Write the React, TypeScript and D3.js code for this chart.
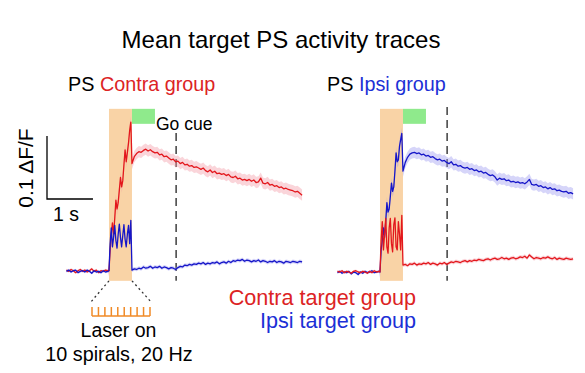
import React from "react";
import * as d3 from "d3";

// ---- time grid (s): pre-laser, laser (finer sampling), post-laser ----
const preTimes = d3.range(19).map((i) => -0.925 + i * 0.05);
const laserTimes = d3.range(20).map((i) => i * 0.025);
const postTimes = d3.range(75).map((i) => 0.5 + i * 0.05);
const times = [...preTimes, ...laserTimes, ...postTimes];

// ---- events (s) ----
const laserWindow = [0, 0.5];
const goWindow = [0.5, 1.0];
const goCueTime = 1.46;
const spiralCount = 10;

// ---- Left panel: PS Contra group ----
const leftContraTarget = [
  // pre
  0.003, 0.001, 0.004, 0.002, -0.001, 0.002, 0.004, 0.001, 0.003, 0.0, 0.002, 0.005, 0.001, 0.003, -0.001, 0.002, 0.001, 0.003, 0.002,
  // laser
  0.002, 0.035, 0.06, 0.078, 0.06, 0.085, 0.114, 0.1, 0.11, 0.13, 0.15, 0.135, 0.145, 0.17, 0.194, 0.175, 0.19, 0.205, 0.225, 0.238,
  // post
  0.172, 0.183, 0.188, 0.191, 0.19, 0.193, 0.195, 0.192, 0.194, 0.191,
  0.189, 0.19, 0.186, 0.187, 0.183, 0.184, 0.181, 0.178, 0.179, 0.175,
  0.176, 0.172, 0.174, 0.17, 0.171, 0.168, 0.169, 0.166, 0.167, 0.165,
  0.163, 0.165, 0.161, 0.159, 0.162, 0.158, 0.16, 0.156, 0.157, 0.155,
  0.156, 0.153, 0.155, 0.151, 0.15, 0.152, 0.148, 0.149, 0.146, 0.147,
  0.145, 0.147, 0.144, 0.146, 0.142, 0.143, 0.149, 0.141, 0.14, 0.142,
  0.138, 0.139, 0.136, 0.137, 0.134, 0.135, 0.132, 0.133, 0.131, 0.13,
  0.129, 0.127, 0.128, 0.125, 0.122,
];
const leftIpsiTarget = [
  0.001, 0.003, 0.0, 0.002, 0.003, -0.001, 0.001, 0.002, 0.0, 0.003, 0.001, -0.002, 0.002, 0.0, 0.001, -0.001, 0.002, 0.0, 0.001,
  0.002, 0.045, 0.07, 0.04, 0.055, 0.074, 0.05, 0.038, 0.06, 0.076, 0.055, 0.04, 0.058, 0.075, 0.052, 0.04, 0.06, 0.074, 0.045, 0.082,
  0.003, 0.005, 0.004, 0.006, 0.005, 0.008, 0.006, 0.007, 0.009, 0.006,
  0.008, 0.007, 0.009, 0.006, 0.008, 0.007, 0.005, 0.007, 0.006, 0.004,
  0.007, 0.009, 0.008, 0.011, 0.01, 0.012, 0.011, 0.013, 0.012, 0.014,
  0.013, 0.015, 0.012, 0.014, 0.013, 0.015, 0.014, 0.016, 0.013, 0.015,
  0.016, 0.014, 0.017, 0.015, 0.018, 0.017, 0.019, 0.018, 0.02, 0.017,
  0.019, 0.018, 0.016, 0.018, 0.017, 0.019, 0.016, 0.018, 0.017, 0.015,
  0.017, 0.016, 0.018, 0.015, 0.017, 0.016, 0.014, 0.017, 0.016, 0.015,
  0.017, 0.016, 0.015, 0.017, 0.016,
];

// ---- Right panel: PS Ipsi group ----
const rightContraTarget = [
  0.001, 0.0, 0.002, -0.001, 0.001, 0.0, -0.002, 0.001, 0.002, 0.0, -0.001, 0.001, 0.0, -0.002, 0.001, -0.001, 0.002, 0.0, 0.001,
  0.0, 0.05, 0.08, 0.035, 0.06, 0.085, 0.04, 0.03, 0.07, 0.085, 0.045, 0.032, 0.075, 0.086, 0.04, 0.035, 0.08, 0.06, 0.035, 0.09,
  0.011, 0.012, 0.01, 0.013, 0.012, 0.014, 0.011, 0.013, 0.012, 0.014,
  0.013, 0.015, 0.012, 0.014, 0.013, 0.011, 0.014, 0.013, 0.015, 0.012,
  0.014, 0.016, 0.015, 0.017, 0.016, 0.015, 0.017, 0.018, 0.016, 0.018,
  0.017, 0.019, 0.018, 0.02, 0.019, 0.018, 0.02, 0.021, 0.019, 0.021,
  0.022, 0.02, 0.021, 0.023, 0.021, 0.022, 0.02, 0.022, 0.023, 0.021,
  0.022, 0.024, 0.023, 0.025, 0.022, 0.027, 0.024, 0.021, 0.023, 0.022,
  0.021, 0.023, 0.022, 0.024, 0.022, 0.021, 0.023, 0.02, 0.022, 0.021,
  0.02, 0.022, 0.021, 0.02, 0.021,
];
const rightIpsiTarget = [
  -0.001, 0.001, -0.002, 0.0, -0.001, 0.001, -0.003, 0.0, -0.001, -0.004, 0.0, -0.002, 0.001, -0.001, 0.0, 0.002, -0.001, 0.0, 0.001,
  0.0, 0.035, 0.05, 0.07, 0.055, 0.08, 0.11, 0.095, 0.1, 0.12, 0.141, 0.128, 0.135, 0.16, 0.189, 0.175, 0.178, 0.2, 0.21, 0.22,
  0.16, 0.174, 0.182, 0.187, 0.189, 0.19, 0.188, 0.189, 0.186, 0.187,
  0.184, 0.185, 0.182, 0.183, 0.18, 0.178, 0.179, 0.176, 0.177, 0.174,
  0.172, 0.175, 0.17, 0.171, 0.168, 0.169, 0.166, 0.165, 0.166, 0.163,
  0.164, 0.161, 0.162, 0.159, 0.16, 0.157, 0.158, 0.155, 0.153, 0.154,
  0.151, 0.146, 0.149, 0.147, 0.148, 0.145, 0.146, 0.143, 0.144, 0.142,
  0.143, 0.141, 0.142, 0.14, 0.143, 0.147, 0.139, 0.138, 0.139, 0.136,
  0.137, 0.134, 0.135, 0.132, 0.134, 0.131, 0.132, 0.129, 0.13, 0.128,
  0.127, 0.128, 0.125, 0.126, 0.124,
];

// SEM half-widths (ΔF/F): [pre-laser, laser/post]
const semLeft = { contra: [0.002, 0.009], ipsi: [0.002, 0.003] };
const semRight = { contra: [0.002, 0.003], ipsi: [0.002, 0.009] };

const RED = "#e3171c";
const BLUE = "#1616c8";
const RED_TEXT = "#dc2324";
const BLUE_TEXT = "#1c30d6";
const FONT = "'Liberation Sans', Arial, Helvetica, sans-serif";

const W = 585;
const H = 373;

const y = d3.scaleLinear().domain([0, 0.1]).range([272, 209]);

type PanelProps = {
  x0: number;
  x1: number;
  contra: number[];
  ipsi: number[];
  sem: { contra: number[]; ipsi: number[] };
  contraOnTop: boolean;
  dashTop: number;
};

function Panel({ x0, x1, contra, ipsi, sem, contraOnTop, dashTop }: PanelProps) {
  const x = d3.scaleLinear().domain([-0.935, 4.22]).range([x0, x1]);
  const line = d3
    .line<number>()
    .x((_, i) => x(times[i]))
    .y((d) => y(d));
  const area = (s: number[]) => {
    const sAt = (i: number) => (times[i] < 0 ? s[0] : s[1]);
    return d3
      .area<number>()
      .x((_, i) => x(times[i]))
      .y0((d, i) => y(d - sAt(i)))
      .y1((d, i) => y(d + sAt(i)));
  };
  const rectTop = y(0.259);
  const rectBot = y(-0.014);
  const contraPath = <path d={line(contra) || ""} fill="none" stroke={RED} strokeWidth={1.3} strokeLinejoin="round" />;
  const ipsiPath = <path d={line(ipsi) || ""} fill="none" stroke={BLUE} strokeWidth={1.3} strokeLinejoin="round" />;
  return (
    <g>
      <rect x={x(laserWindow[0])} y={rectTop} width={x(laserWindow[1]) - x(laserWindow[0])} height={rectBot - rectTop} fill="#f9d3a6" />
      <rect x={x(goWindow[0])} y={rectTop} width={x(goWindow[1]) - x(goWindow[0])} height={15} fill="#8fea8c" />
      <line x1={x(goCueTime)} x2={x(goCueTime)} y1={dashTop} y2={rectBot} stroke="#222" strokeWidth={1.3} strokeDasharray="8,5" />
      <path d={area(sem.contra)(contra) || ""} fill="#f29aa6" opacity={0.42} />
      <path d={area(sem.ipsi)(ipsi) || ""} fill="#9d9cf0" opacity={0.42} />
      {contraOnTop ? (
        <>
          {ipsiPath}
          {contraPath}
        </>
      ) : (
        <>
          {contraPath}
          {ipsiPath}
        </>
      )}
    </g>
  );
}

export default function App() {
  const xl = d3.scaleLinear().domain([-0.935, 4.22]).range([66, 303]);
  const barX = 47;
  const barY = 199;
  const combX = d3.scaleLinear().domain([0, spiralCount - 1]).range([92, 150]);
  const laserBot = y(-0.014);
  return (
    <svg width={W} height={H} style={{ position: "absolute", left: 0, top: 0, background: "#fff" }} fontFamily={FONT}>
      <text x={281} y={48} fontSize={24} textAnchor="middle" fill="#000">
        Mean target PS activity traces
      </text>
      <text x={68} y={91} fontSize={19.8} fill="#000">
        PS <tspan fill={RED_TEXT}>Contra group</tspan>
      </text>
      <text x={327} y={91} fontSize={19.8} fill="#000">
        PS <tspan fill={BLUE_TEXT}>Ipsi group</tspan>
      </text>

      <Panel x0={66} x1={303} contra={leftContraTarget} ipsi={leftIpsiTarget} sem={semLeft} contraOnTop={false} dashTop={133} />
      <Panel x0={337} x1={574} contra={rightContraTarget} ipsi={rightIpsiTarget} sem={semRight} contraOnTop={true} dashTop={107} />

      <text x={156} y={130} fontSize={17.5} fill="#000">
        Go cue
      </text>

      {/* scale bar */}
      <path
        d={`M${barX},${barY - (y(0) - y(0.1))}V${barY}H${barX + (xl(1) - xl(0))}`}
        fill="none"
        stroke="#000"
        strokeWidth={1.3}
      />
      <text transform={`translate(33,168) rotate(-90)`} fontSize={21} textAnchor="middle" fill="#000">
        0.1 ΔF/F
      </text>
      <text x={53} y={221} fontSize={19.5} fill="#000">
        1 s
      </text>

      {/* laser zoom lines */}
      <line x1={xl(laserWindow[0])} y1={laserBot} x2={90} y2={303} stroke="#333" strokeWidth={1.3} strokeDasharray="2,3" />
      <line x1={xl(laserWindow[1])} y1={laserBot} x2={152} y2={303} stroke="#333" strokeWidth={1.3} strokeDasharray="2,3" />
      <g stroke="#f08a26" strokeWidth={1.5} fill="none">
        <line x1={combX(0)} x2={combX(spiralCount - 1)} y1={316} y2={316} />
        {d3.range(spiralCount).map((i) => (
          <line key={i} x1={combX(i)} x2={combX(i)} y1={307} y2={316} />
        ))}
      </g>
      <text x={118.5} y={337} fontSize={19.5} textAnchor="middle" fill="#000">
        Laser on
      </text>
      <text x={119} y={361} fontSize={19.8} textAnchor="middle" fill="#000">
        10 spirals, 20 Hz
      </text>

      <text x={416} y={305} fontSize={21.6} textAnchor="end" fill={RED_TEXT}>
        Contra target group
      </text>
      <text x={416} y={328} fontSize={21.6} textAnchor="end" fill={BLUE_TEXT}>
        Ipsi target group
      </text>
    </svg>
  );
}
